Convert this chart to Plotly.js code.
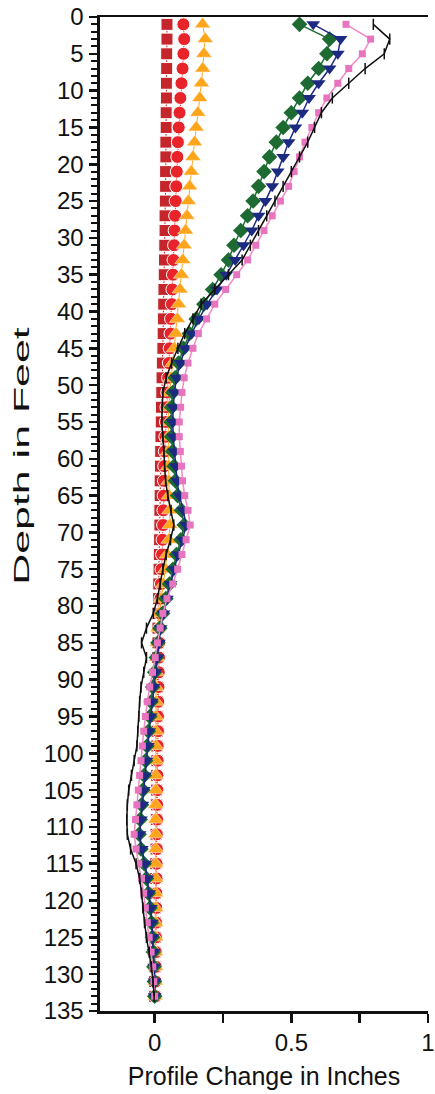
<!DOCTYPE html>
<html>
<head>
<meta charset="utf-8">
<script src="https://cdn.plot.ly/plotly-3.0.1.min.js"></script>
<style>
html,body{margin:0;padding:0;background:#fff;}
#chart{width:435px;height:1094px;}
</style>
</head>
<body>
<div id="chart"></div>
<script>
// Depth in feet (readings every 2 ft)
const depth = [1,3,5,7,9,11,13,15,17,19,21,23,25,27,29,31,33,35,37,39,41,43,45,47,49,51,53,55,57,59,61,63,65,67,69,71,73,75,77,79,81,83,85,87,89,91,93,95,97,99,101,103,105,107,109,111,113,115,117,119,121,123,125,127,129,131,133];

// Profile change in inches, one array per survey
const redSquares = [0.045,0.045,0.044,0.044,0.043, 0.043,0.042,0.042,0.041,0.041, 0.040,0.040,0.039,0.038,0.038, 0.037,0.036,0.035,0.034,0.033, 0.032,0.031,0.030,0.028,0.027, 0.026,0.025,0.024,0.023,0.022, 0.021,0.020,0.020,0.019,0.019, 0.018,0.017,0.016,0.015,0.014, 0.013,0.012,0.012,0.011,0.011, 0.010,0.010,0.009,0.009,0.008, 0.008,0.007,0.007,0.006,0.006, 0.005,0.005,0.004,0.004,0.003, 0.003,0.002,0.002,0.001,0.001, 0.000,0.000];
const redCircles = [0.105,0.108,0.105,0.102,0.098, 0.094,0.091,0.088,0.085,0.083, 0.081,0.079,0.077,0.075,0.073, 0.071,0.069,0.067,0.065,0.063, 0.060,0.058,0.055,0.052,0.049, 0.046,0.043,0.041,0.039,0.037, 0.035,0.034,0.033,0.032,0.031, 0.029,0.027,0.025,0.023,0.021, 0.019,0.018,0.017,0.016,0.015, 0.014,0.013,0.012,0.012,0.011, 0.011,0.010,0.010,0.009,0.009, 0.008,0.008,0.007,0.007,0.006, 0.006,0.005,0.005,0.004,0.004, 0.003,0.003];
const orangeTri = [0.175,0.185,0.180,0.176,0.171, 0.165,0.158,0.152,0.146,0.140, 0.134,0.128,0.123,0.118,0.113, 0.108,0.103,0.098,0.093,0.088, 0.083,0.078,0.072,0.066,0.060, 0.055,0.052,0.050,0.050,0.050, 0.051,0.052,0.053,0.055,0.056, 0.052,0.046,0.040,0.032,0.024, 0.016,0.012,0.010,0.008,0.006, 0.005,0.005,0.004,0.004,0.004, 0.004,0.004,0.004,0.004,0.004, 0.004,0.004,0.004,0.004,0.004, 0.004,0.004,0.004,0.003,0.003, 0.002,0.002];
const pinkSurvey = [0.70,0.79,0.76,0.71,0.67, 0.63,0.60,0.575,0.55,0.53, 0.51,0.49,0.46,0.43,0.40, 0.37,0.34,0.30,0.26,0.22, 0.19,0.16,0.14,0.122,0.108, 0.100,0.095,0.090,0.090,0.094, 0.098,0.102,0.110,0.122,0.130, 0.115,0.100,0.084,0.066,0.045, 0.030,0.020,0.010,0.002,-0.008, -0.018,-0.027,-0.034,-0.040,-0.045, -0.050,-0.055,-0.060,-0.065,-0.070, -0.075,-0.068,-0.058,-0.048,-0.040, -0.034,-0.027,-0.020,-0.013,-0.007, -0.003,0.000];
const navyTri = [0.58,0.68,0.67,0.64,0.60, 0.565,0.54,0.515,0.49,0.47, 0.45,0.43,0.405,0.38,0.355, 0.325,0.295,0.262,0.228,0.192, 0.162,0.135,0.112,0.094,0.080, 0.072,0.068,0.066,0.068,0.072, 0.077,0.082,0.090,0.105,0.115, 0.102,0.085,0.072,0.058,0.045, 0.032,0.022,0.016,0.010,0.003, -0.004,-0.010,-0.015,-0.020,-0.025, -0.030,-0.035,-0.040,-0.045,-0.050, -0.055,-0.047,-0.035,-0.027,-0.020, -0.014,-0.010,-0.007,-0.004,-0.002, 0.000,0.000];
const greenDia = [0.53,0.64,0.63,0.60,0.56, 0.53,0.50,0.47,0.445,0.42, 0.40,0.38,0.36,0.34,0.315, 0.29,0.27,0.243,0.212,0.18, 0.152,0.127,0.105,0.088,0.075, 0.066,0.062,0.060,0.062,0.066, 0.071,0.076,0.084,0.098,0.108, 0.096,0.080,0.067,0.054,0.041, 0.029,0.019,0.012,0.006,0.000, -0.007,-0.013,-0.018,-0.023,-0.028, -0.033,-0.038,-0.043,-0.048,-0.053, -0.057,-0.050,-0.038,-0.030,-0.023, -0.017,-0.012,-0.008,-0.005,-0.003, -0.001,0.000];
const blackLine = [0.80,0.86,0.84,0.77,0.71, 0.65,0.61,0.585,0.56,0.53, 0.50,0.47,0.44,0.41,0.38, 0.35,0.32,0.27,0.22,0.17, 0.14,0.11,0.085,0.062,0.042, 0.030,0.028,0.026,0.030,0.034, 0.036,0.040,0.048,0.060,0.070, 0.058,0.042,0.030,0.020,0.010, -0.005,-0.030,-0.048,-0.030,-0.040, -0.050,-0.055,-0.058,-0.062,-0.065, -0.075,-0.085,-0.095,-0.100,-0.102, -0.100,-0.088,-0.068,-0.055,-0.048, -0.043,-0.037,-0.030,-0.020,-0.012, -0.006,-0.002];

const yTickVals = [0,5,10,15,20,25,30,35,40,45,50,55,60,65,70,75,80,85,90,95,100,105,110,115,120,125,130,135];
const xTickVals = [0,0.5,1];
const xTickText = ['0','0.5','1'];
const xTitle = 'Profile Change in Inches';
const yTitle = 'Depth in Feet';

function tr(x, opts){
  return Object.assign({x:x, y:depth, type:'scatter', mode:'lines+markers', hoverinfo:'skip'}, opts);
}

const data = [
  tr(redSquares, {line:{color:'#c0262c', width:1}, marker:{symbol:'square', size:12, color:'#c4262c', line:{color:'#ffffff', width:1}}}),
  tr(redCircles, {line:{color:'#e8232a', width:1}, marker:{symbol:'circle', size:13, color:'#e8232a', line:{color:'#ffffff', width:1}}}),
  tr(orangeTri, {line:{color:'#ffa51c', width:1}, marker:{symbol:'triangle-up', size:14, color:'#ffa51c', line:{color:'#ffffff', width:0.5}}}),
  tr(greenDia, {line:{color:'#1d6a32', width:1.5}, marker:{symbol:'diamond', size:12, color:'#1d6a32'}}),
  tr(navyTri, {line:{color:'#1c2a82', width:1.5}, marker:{symbol:'triangle-down', size:12, color:'#1c2a82'}}),
  tr(pinkSurvey, {line:{color:'#f28ac6', width:1.5}, marker:{symbol:'square', size:7, color:'#e874c0'}}),
  tr(blackLine, {line:{color:'#111111', width:1.5}, marker:{symbol:'line-ns-open', size:8, color:'#111111', line:{color:'#111111', width:1.5}}})
];

const fam = '"Liberation Sans", Arial, sans-serif';

const layout = {
  width:435, height:1094,
  margin:{l:100, r:7, t:17, b:83},
  paper_bgcolor:'#ffffff', plot_bgcolor:'#ffffff',
  showlegend:false,
  font:{family:fam, color:'#111111'},
  xaxis:{
    range:[-0.2,1], tickvals:xTickVals, ticktext:xTickText,
    ticks:'outside', ticklen:9, tickwidth:2.5, tickcolor:'#111',
    minor:{tickvals:[0.25,0.75], ticks:'outside', ticklen:9, tickwidth:2.5, tickcolor:'#111', showgrid:false},
    showline:true, linecolor:'#111', linewidth:2.5, mirror:true,
    showgrid:false, zeroline:false,
    tickfont:{size:24, family:fam, color:'#111'},
    title:{text:xTitle, font:{size:25, family:fam, color:'#111'}, standoff:12}
  },
  yaxis:{
    range:[135,0], tickvals:yTickVals,
    ticks:'outside', ticklen:8, tickwidth:2.5, tickcolor:'#111',
    minor:{dtick:1, ticks:'outside', ticklen:6, tickwidth:2, tickcolor:'#111', showgrid:false},
    showline:true, linecolor:'#111', linewidth:3.5,
    showgrid:false, zeroline:false,
    tickfont:{size:24, family:fam, color:'#111'},
    title:{text:yTitle, font:{size:22, family:fam, color:'#111'}, standoff:2}
  }
};

Plotly.newPlot('chart', data, layout, {staticPlot:true}).then(function(){
  const t = document.querySelector('.ytitle');
  if (t){
    const x = parseFloat(t.getAttribute('x')), y = parseFloat(t.getAttribute('y'));
    const base = t.getAttribute('transform') || '';
    const bb = t.getBoundingClientRect();
    const dx = 22 - (bb.left + bb.width/2);
    t.setAttribute('transform', 'translate(' + dx + ',-58) ' + base + ' translate(' + x + ',' + y + ') scale(1.95,1) translate(' + (-x) + ',' + (-y) + ')');
  }
});
</script>
</body>
</html>
